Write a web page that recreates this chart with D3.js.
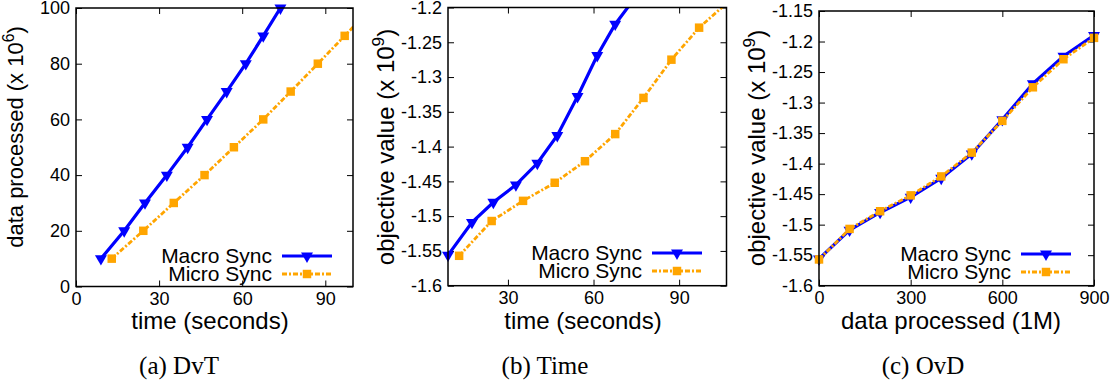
<!DOCTYPE html>
<html>
<head>
<meta charset="utf-8">
<script src="https://cdn.jsdelivr.net/npm/d3@7"></script>
<style>
  html, body { margin: 0; padding: 0; background: #fff; }
  svg { display: block; }
  text { font-family: "Liberation Sans", Arial, sans-serif; fill: #000; }
  text.caption { font-family: "Liberation Serif", "Times New Roman", serif; }
</style>
</head>
<body>
<script>
// ---------------- data ----------------
const seriesNames = ["Macro Sync", "Micro Sync"];
const dataProcessed = [10, 20, 30, 40, 50, 60, 70, 80, 90, 100];          // x 10^6
const macroTime = [9.0, 17.4, 24.9, 32.8, 40.3, 47.3, 54.4, 61.3, 67.6, 73.8]; // seconds
const microTime = [12.9, 24.3, 35.3, 46.4, 57.0, 67.6, 77.5, 87.3, 97.0, 106.6];
const macroObjective = [-1.556, -1.509, -1.480, -1.455, -1.424, -1.384, -1.328, -1.269, -1.224, -1.190]; // x 10^9
const microObjective = [-1.557, -1.507, -1.478, -1.452, -1.421, -1.382, -1.330, -1.275, -1.229, -1.194];
const dataAxisValues = [0, 100, 200, 300, 400, 500, 600, 700, 800, 900]; // data processed (1M)

const ticksTimeA = [0, 30, 60, 90];
const ticksTimeB = [30, 60, 90];
const ticksData = [0, 20, 40, 60, 80, 100];
const ticksObjB = [-1.6, -1.55, -1.5, -1.45, -1.4, -1.35, -1.3, -1.25, -1.2];
const ticksObjC = [-1.6, -1.55, -1.5, -1.45, -1.4, -1.35, -1.3, -1.25, -1.2, -1.15];
const ticksDataC = [0, 300, 600, 900];

const captions = ["(a) DvT", "(b) Time", "(c) OvD"];

// ---------------- layout ----------------
const W = 1117, H = 383;
const BLUE = "#0000ff", ORANGE = "#ffa500";

const svg = d3.select("body").append("svg").attr("width", W).attr("height", H);

const panels = [
  {
    box: {x0: 76, x1: 353, y0: 8, y1: 286.5},
    xDomain: [0, 100], yDomain: [0, 100],
    xTicks: ticksTimeA, yTicks: ticksData,
    macroX: macroTime, macroY: dataProcessed,
    microX: microTime, microY: dataProcessed,
    xTitle: "time (seconds)", xTitleX: 210,
    yTitle: ["data processed (x 10", "6", ")"], yTitlePos: [23, 137], yTitleSize: 22,
    legendRight: 272, legendY: [256, 274],
    caption: captions[0], captionX: 179
  },
  {
    box: {x0: 448, x1: 726.5, y0: 7.5, y1: 285.7},
    xDomain: [9.0, 106.6], yDomain: [-1.6, -1.2],
    xTicks: ticksTimeB, yTicks: ticksObjB,
    macroX: macroTime, macroY: macroObjective,
    microX: microTime, microY: microObjective,
    xTitle: "time (seconds)", xTitleX: 583,
    yTitle: ["objective value (x 10", "9", ")"], yTitlePos: [394, 147], yTitleSize: 24,
    legendRight: 642, legendY: [253, 271],
    caption: captions[1], captionX: 545
  },
  {
    box: {x0: 819, x1: 1094, y0: 11, y1: 285.7},
    xDomain: [0, 900], yDomain: [-1.6, -1.15],
    xTicks: ticksDataC, yTicks: ticksObjC,
    macroX: dataAxisValues, macroY: macroObjective,
    microX: dataAxisValues, microY: microObjective,
    xTitle: "data processed (1M)", xTitleX: 951,
    yTitle: ["objective value (x 10", "9", ")"], yTitlePos: [765, 148], yTitleSize: 24,
    legendRight: 1011, legendY: [254, 272],
    caption: captions[2], captionX: 923
  }
];

const fmt = d => String(+d.toFixed(2));
const triangle = d3.symbol().type(d3.symbolTriangle).size(62);
const square = d3.symbol().type(d3.symbolSquare).size(72);

panels.forEach((p, i) => {
  const b = p.box;
  const x = d3.scaleLinear().domain(p.xDomain).range([b.x0, b.x1]);
  const y = d3.scaleLinear().domain(p.yDomain).range([b.y1, b.y0]);
  const g = svg.append("g");

  const clipId = "clip" + i;
  svg.append("clipPath").attr("id", clipId)
    .append("rect").attr("x", b.x0).attr("y", b.y0)
    .attr("width", b.x1 - b.x0).attr("height", b.y1 - b.y0);

  // axes (ticks inward, mirrored)
  const bottom = g.append("g").attr("transform", `translate(0,${b.y1})`)
    .call(d3.axisBottom(x).tickValues(p.xTicks).tickSizeInner(-6).tickSizeOuter(0).tickPadding(6).tickFormat(fmt));
  const top = g.append("g").attr("transform", `translate(0,${b.y0})`)
    .call(d3.axisTop(x).tickValues(p.xTicks).tickSizeInner(-6).tickSizeOuter(0).tickFormat(""));
  const left = g.append("g").attr("transform", `translate(${b.x0},0)`)
    .call(d3.axisLeft(y).tickValues(p.yTicks).tickSizeInner(-6).tickSizeOuter(0).tickPadding(6).tickFormat(fmt));
  const right = g.append("g").attr("transform", `translate(${b.x1},0)`)
    .call(d3.axisRight(y).tickValues(p.yTicks).tickSizeInner(-6).tickSizeOuter(0).tickFormat(""));
  [bottom, top, left, right].forEach(a => {
    a.select(".domain").remove();
    a.selectAll("line").attr("stroke", "#000").attr("stroke-width", 1);
    a.selectAll("text").attr("font-size", 18).attr("font-family", "Liberation Sans, Arial, sans-serif").attr("fill", "#000");
  });

  // series
  const inDomain = (xv, yv) => xv >= p.xDomain[0] - 1e-9 && xv <= p.xDomain[1] + 1e-9 &&
                               yv >= p.yDomain[0] - 1e-9 && yv <= p.yDomain[1] + 1e-9;
  const series = [
    {xs: p.macroX, ys: p.macroY, color: BLUE, width: 3.2, dash: null, sym: "tri"},
    {xs: p.microX, ys: p.microY, color: ORANGE, width: 2.8, dash: "5,2,2,2", sym: "sq"}
  ];
  series.forEach(s => {
    const pts = s.xs.map((xv, k) => [xv, s.ys[k]]);
    g.append("path")
      .attr("clip-path", `url(#${clipId})`)
      .attr("d", d3.line().x(d => x(d[0])).y(d => y(d[1]))(pts))
      .attr("fill", "none").attr("stroke", s.color).attr("stroke-width", s.width)
      .attr("stroke-dasharray", s.dash);
    g.selectAll(null).data(pts.filter(d => inDomain(d[0], d[1]))).enter()
      .append("path")
      .attr("d", s.sym === "tri" ? triangle : square)
      .attr("transform", d => `translate(${x(d[0])},${y(d[1])})` + (s.sym === "tri" ? " rotate(180)" : ""))
      .attr("fill", s.color);
  });

  // frame
  g.append("rect").attr("x", b.x0).attr("y", b.y0)
    .attr("width", b.x1 - b.x0).attr("height", b.y1 - b.y0)
    .attr("fill", "none").attr("stroke", "#000").attr("stroke-width", 1.5);

  // legend
  series.forEach((s, k) => {
    const ly = p.legendY[k];
    g.append("text").attr("x", p.legendRight).attr("y", ly + 7)
      .attr("text-anchor", "end").attr("font-size", 21).text(seriesNames[k]);
    const lx0 = p.legendRight + 10, lx1 = p.legendRight + 60;
    g.append("line").attr("x1", lx0).attr("x2", lx1).attr("y1", ly).attr("y2", ly)
      .attr("stroke", s.color).attr("stroke-width", s.width).attr("stroke-dasharray", s.dash);
    g.append("path")
      .attr("d", s.sym === "tri" ? triangle : square)
      .attr("transform", `translate(${(lx0 + lx1) / 2},${ly})` + (s.sym === "tri" ? " rotate(180)" : ""))
      .attr("fill", s.color);
  });

  // axis titles
  g.append("text").attr("x", p.xTitleX).attr("y", 329)
    .attr("text-anchor", "middle").attr("font-size", 24).text(p.xTitle);
  const yt = g.append("text")
    .attr("transform", `translate(${p.yTitlePos[0]},${p.yTitlePos[1]}) rotate(-90)`)
    .attr("text-anchor", "middle").attr("font-size", p.yTitleSize);
  yt.append("tspan").text(p.yTitle[0]);
  yt.append("tspan").attr("font-size", p.yTitleSize * 0.72).attr("dy", -p.yTitleSize * 0.42).text(p.yTitle[1]);
  yt.append("tspan").attr("dy", p.yTitleSize * 0.42).text(p.yTitle[2]);

  // caption
  g.append("text").attr("class", "caption").attr("x", p.captionX).attr("y", 374)
    .attr("text-anchor", "middle").attr("font-size", 25)
    .style("font-family", "'Liberation Serif', 'Times New Roman', serif").text(p.caption);
});
</script>
</body>
</html>
